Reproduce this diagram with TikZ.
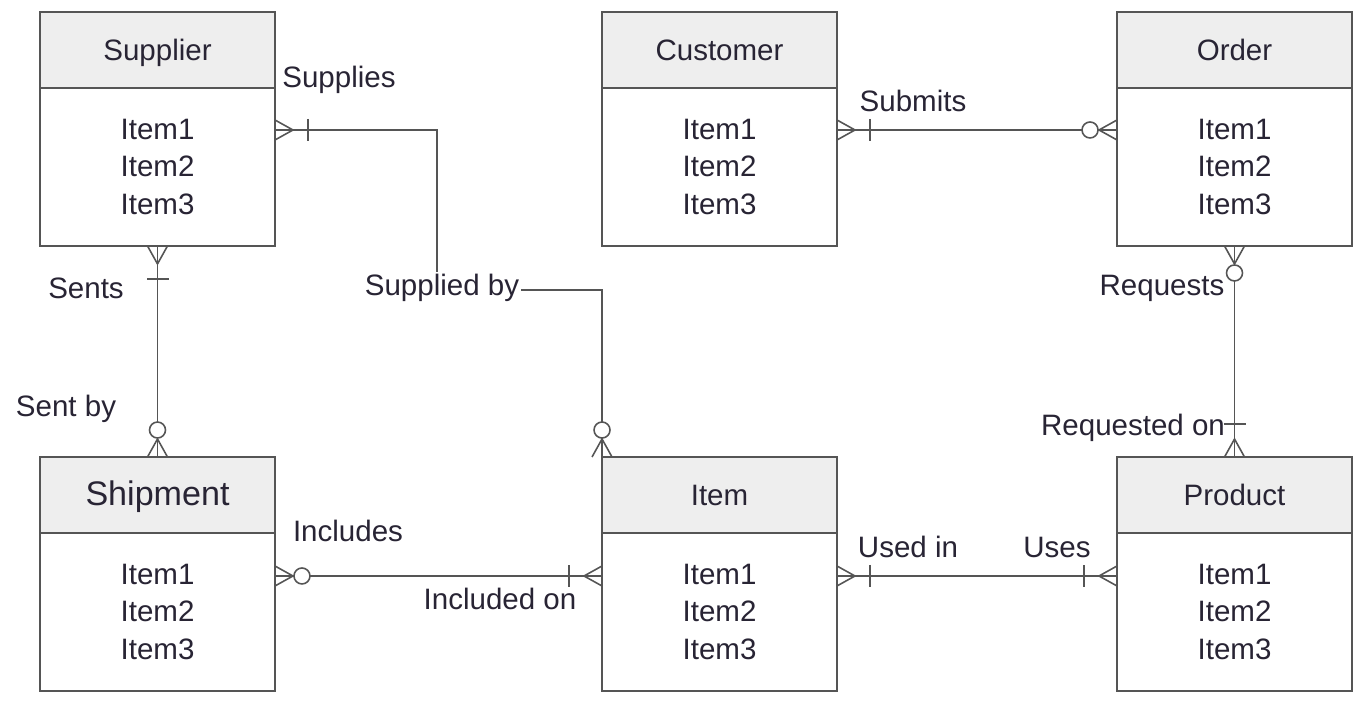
\documentclass[tikz,border=0pt]{standalone}
\usepackage{fontspec}
\setmainfont{Liberation Sans}
\usetikzlibrary{positioning, calc}
\definecolor{linegray}{RGB}{85, 85, 85}
\definecolor{headgray}{RGB}{238, 238, 238}
\definecolor{inkdark}{RGB}{40, 36, 52}

\begin{document}
\begin{tikzpicture}[
  x=0.02cm, y=-0.02cm,
  entityhead/.style={draw=linegray, line width=0.9pt, fill=headgray, minimum width=4.7cm, minimum height=1.52cm, inner sep=0pt, outer sep=0pt, text height=12.5pt, text depth=0pt, text=inkdark, font=\fontsize{16.8}{20}\selectfont},
  entitybody/.style={draw=linegray, line width=0.9pt, fill=white, minimum width=4.7cm, minimum height=3.16cm, inner sep=0pt, outer sep=0pt, align=center, text=inkdark, font=\fontsize{16.8}{21.5}\selectfont},
  rel/.style={line width=0.9pt, draw=linegray},
  rolelabel/.style={text=inkdark, font=\fontsize{16.8}{20}\selectfont, inner sep=1pt},
  onemany/.pic={
    \draw[rel] (0,-10) -- (18,0) -- (0,10);
    \draw[rel] (33,-11) -- (33,11);
  },
  zeromany/.pic={
    \draw[rel] (0,-10) -- (18,0) -- (0,10);
    \draw[rel, fill=white] (27,0) circle (8);
  }
]
  \useasboundingbox (0,0) rectangle (1368,702);

  % entities, top row
  \node[entityhead] (suph) at (157.5, 50) {Supplier};
  \node[entitybody, below=0pt of suph] (supb) {Item1\\Item2\\Item3};

  \node[entityhead] (custh) at (719.5, 50) {Customer};
  \node[entitybody, below=0pt of custh] (custb) {Item1\\Item2\\Item3};

  \node[entityhead] (ordh) at (1234.5, 50) {Order};
  \node[entitybody, below=0pt of ordh] (ordb) {Item1\\Item2\\Item3};

  % entities, bottom row
  \node[entityhead, font=\fontsize{19.4}{22}\selectfont] (shph) at (157.5, 495) {Shipment};
  \node[entitybody, below=0pt of shph] (shpb) {Item1\\Item2\\Item3};

  \node[entityhead] (itemh) at (719.5, 495) {Item};
  \node[entitybody, below=0pt of itemh] (itemb) {Item1\\Item2\\Item3};

  \node[entityhead] (prodh) at (1234.5, 495) {Product};
  \node[entitybody, below=0pt of prodh] (prodb) {Item1\\Item2\\Item3};

  % connector ends
  \coordinate (supR) at ([yshift=-0.84cm]supb.north east);
  \coordinate (custR) at ([yshift=-0.84cm]custb.north east);
  \coordinate (ordL) at ([yshift=-0.84cm]ordb.north west);
  \coordinate (shpR) at ([yshift=-0.86cm]shpb.north east);
  \coordinate (itemL) at ([yshift=-0.86cm]itemb.north west);
  \coordinate (itemR) at ([yshift=-0.86cm]itemb.north east);
  \coordinate (prodL) at ([yshift=-0.86cm]prodb.north west);
  \coordinate (bend) at (437, 290);

  % relationships
  \draw[rel] (supR) -| (bend) -| (itemh.north west);
  \draw[rel] (supb.south) -- (shph.north);
  \draw[rel] (custR) -- (ordL);
  \draw[rel] (ordb.south) -- (prodh.north);
  \draw[rel] (shpR) -- (itemL);
  \draw[rel] (itemR) -- (prodL);

  \pic at (supR) {onemany};
  \pic[rotate=90] at (itemh.north west) {zeromany};
  \pic[rotate=-90] at (supb.south) {onemany};
  \pic[rotate=90] at (shph.north) {zeromany};
  \pic at (custR) {onemany};
  \pic[rotate=180] at (ordL) {zeromany};
  \pic[rotate=-90] at (ordb.south) {zeromany};
  \pic[rotate=90] at (prodh.north) {onemany};
  \pic at (shpR) {zeromany};
  \pic[rotate=180] at (itemL) {onemany};
  \pic at (itemR) {onemany};
  \pic[rotate=180] at (prodL) {onemany};

  % role labels
  \node[rolelabel] (supplies) at (339, 80) {Supplies};
  \node[rolelabel, fill=white] (suppliedby) at (442, 288) {Supplied by};
  \node[rolelabel] (sents) at (86, 288) {Sents};
  \node[rolelabel] (sentby) at (66, 409) {Sent by};
  \node[rolelabel] (submits) at (913, 101) {Submits};
  \node[rolelabel] (requests) at (1162, 288) {Requests};
  \node[rolelabel] (requestedon) at (1133, 428) {Requested on};
  \node[rolelabel] (includes) at (348, 531) {Includes};
  \node[rolelabel] (includedon) at (500, 599) {Included on};
  \node[rolelabel] (usedin) at (908, 547) {Used in};
  \node[rolelabel] (uses) at (1057, 547) {Uses};
\end{tikzpicture}
\end{document}
